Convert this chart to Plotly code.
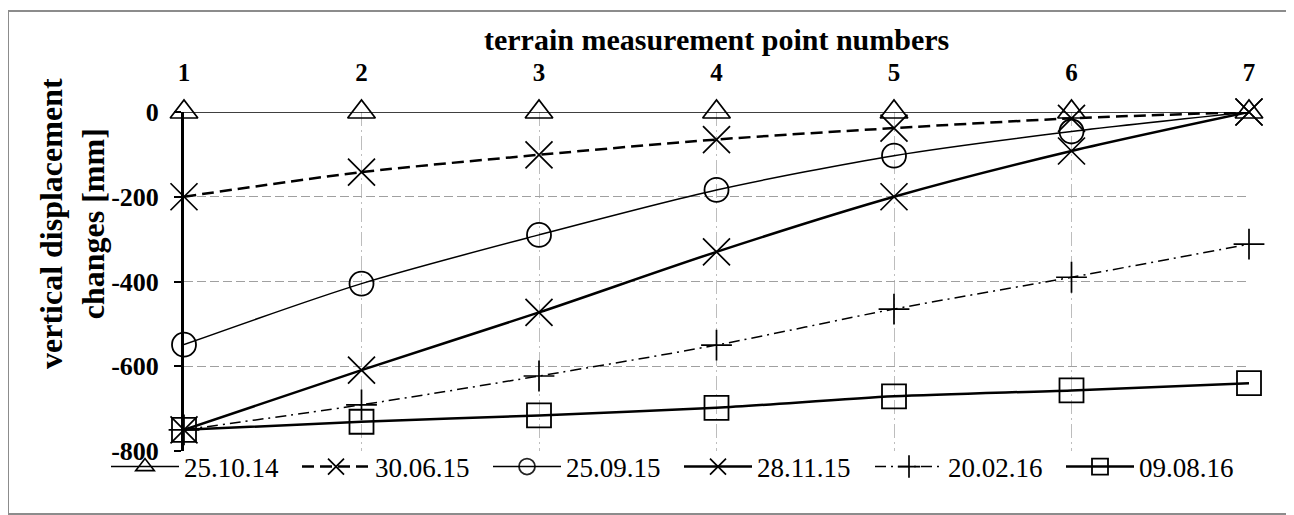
import plotly.graph_objects as go

points = [1, 2, 3, 4, 5, 6, 7]
tick_labels = ["1", "2", "3", "4", "5", "6", "7"]
s_251014 = [0, 0, 0, 0, 0, 0, 0]
s_300615 = [-200, -142, -101, -65, -38, -15, 0]
s_250915 = [-549, -405, -290, -184, -103, -46, 0]
s_281115 = [-750, -609, -473, -330, -200, -92, 0]
s_200216 = [-750, -691, -623, -550, -465, -390, -312]
s_090816 = [-750, -731, -716, -698, -671, -657, -640]
y_ticks = [0, -200, -400, -600, -800]

series = [
    ("25.10.14", s_251014, dict(width=1.5, dash="solid"), dict(symbol="triangle-up-open", size=24), 1.7),
    ("30.06.15", s_300615, dict(width=2.5, dash="12px,6px"), dict(symbol="x-thin-open", size=27), 1.7),
    ("25.09.15", s_250915, dict(width=1.5, dash="solid"), dict(symbol="circle-open", size=24, opacity=[1] * 6 + [0]), 1.8),
    ("28.11.15", s_281115, dict(width=2.5, dash="solid"), dict(symbol="x-thin-open", size=27), 1.7),
    ("20.02.16", s_200216, dict(width=1.5, dash="11px,5px,2px,5px"), dict(symbol="cross-thin-open", size=22), 1.7),
    ("09.08.16", s_090816, dict(width=2.5, dash="solid"), dict(symbol="square-open", size=24), 1.8),
]

fig = go.Figure()
for name, vals, line, marker, mlw in series:
    marker = dict(marker)
    marker.setdefault("opacity", 1)
    fig.add_trace(go.Scatter(
        x=points, y=vals, name=name, mode="lines+markers",
        line=dict(color="black", shape="spline", smoothing=0.8, **line),
        marker=dict(color="black", line=dict(color="black", width=mlw), **marker),
        cliponaxis=False,
    ))

# page is offset by the default 8px body margin
W, H = 1286, 507
L, R, T, B = 176, 45, 104, 64
pw, ph = W - L - R, H - T - B

def px(x):
    return (x - L) / pw

def py(y):
    return (H - B - y) / ph

fig.update_layout(
    width=W, height=H,
    margin=dict(l=L, r=R, t=T, b=B),
    paper_bgcolor="white", plot_bgcolor="white",
    font=dict(family="Liberation Serif", color="black", size=26),
    showlegend=True,
    legend=dict(
        orientation="h", x=px(98), xanchor="left", y=py(459), yanchor="middle",
        font=dict(size=27, family="Liberation Serif"),
        itemwidth=68, entrywidth=108, traceorder="normal",
        bgcolor="rgba(0,0,0,0)",
    ),
    xaxis=dict(
        side="top", range=[1, 7], tickvals=points, ticktext=tick_labels,
        tickfont=dict(size=25, family="Liberation Serif", color="black", weight="bold"),
        showgrid=True, gridcolor="#bdbdbd", griddash="14px,4px,2px,4px", gridwidth=1.3,
        showline=False, zeroline=False, ticks="", ticklabelstandoff=25,
    ),
    yaxis=dict(
        range=[-800, 0], tickvals=y_ticks, ticktext=[str(v) for v in y_ticks],
        tickfont=dict(size=26, family="Liberation Serif", color="black", weight="bold"),
        showgrid=True, gridcolor="#a0a0a0", griddash="9px,4px", gridwidth=1.3,
        showline=True, linecolor="black", linewidth=3,
        ticks="outside", ticklen=7, tickwidth=2, tickcolor="black",
        zeroline=False, ticklabelstandoff=10,
    ),
    annotations=[
        dict(text="<b>terrain measurement point numbers</b>", x=px(708), y=py(32),
             xref="paper", yref="paper", showarrow=False, xanchor="center", yanchor="middle",
             font=dict(size=30, family="Liberation Serif", color="black")),
        dict(text="<b>vertical displacement<br>changes [mm]</b>", x=px(64), y=py(216),
             xref="paper", yref="paper", showarrow=False, xanchor="center", yanchor="middle",
             textangle=-90,
             font=dict(size=32, family="Liberation Serif", color="black")),
    ],
    shapes=[
        dict(type="rect", xref="paper", yref="paper",
             x0=px(0), x1=px(1283), y0=py(506), y1=py(3),
             line=dict(color="#8c8c8c", width=2), fillcolor="rgba(0,0,0,0)", layer="below"),
    ],
)

fig.write_html("out.html")
